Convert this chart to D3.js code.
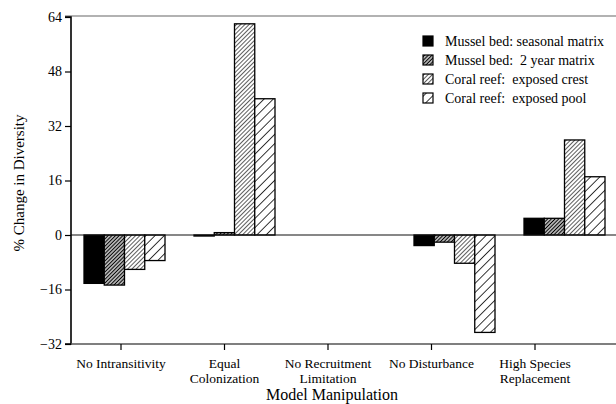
<!DOCTYPE html>
<html><head><meta charset="utf-8">
<script src="https://cdn.jsdelivr.net/npm/d3@7/dist/d3.min.js"></script>
<style>body{margin:0;background:#fff}text{font-family:"Liberation Serif","Times New Roman",serif;fill:#000}</style>
</head><body><svg id="c" width="616" height="404"></svg>
<script>
const categories = ["No Intransitivity", "Equal Colonization", "No Recruitment Limitation", "No Disturbance", "High Species Replacement"];
const categoryLines = [["No Intransitivity"], ["Equal", "Colonization"], ["No Recruitment", "Limitation"], ["No Disturbance"], ["High Species", "Replacement"]];
const seriesNames = ["Mussel bed: seasonal matrix", "Mussel bed:  2 year matrix", "Coral reef:  exposed crest", "Coral reef:  exposed pool"];
const musselSeasonal = [-14.2, -0.3, 0, -3.1, 4.9];
const mussel2yr = [-14.7, 0.7, 0, -2.1, 4.9];
const coralCrest = [-10.1, 62.0, 0, -8.3, 27.9];
const coralPool = [-7.5, 40.0, 0, -28.6, 17.1];
const yTicks = [-32, -16, 0, 16, 32, 48, 64];
const series = [musselSeasonal, mussel2yr, coralCrest, coralPool];

const svg = d3.select("#c");
const defs = svg.append("defs");
function hatch(id, size, sw, color) {
  const p = defs.append("pattern").attr("id", id).attr("patternUnits", "userSpaceOnUse")
    .attr("width", size).attr("height", size).attr("patternTransform", "rotate(45)");
  p.append("rect").attr("width", size).attr("height", size).attr("fill", "#fff");
  p.append("line").attr("x1", size/2).attr("x2", size/2).attr("y1", -1).attr("y2", size+1)
    .attr("stroke", color).attr("stroke-width", sw);
}
hatch("h2", 2.6, 1.4, "#000");
hatch("h3", 3.0, 0.8, "#333");
hatch("h4", 6.5, 0.9, "#222");
const fills = ["#000", "url(#h2)", "url(#h3)", "url(#h4)"];

const y = d3.scaleLinear().domain([-32, 64]).range([344, 17]);
const xBars = d3.scaleBand().domain(categories).range([69.5, 619.5]).paddingInner(0).paddingOuter(0);
const xTicks = d3.scaleBand().domain(categories).range([69.25, 586.75]);
const inner = d3.scaleBand().domain(d3.range(4)).range([0, 81]);
const groupW = 81;

// top frame line
svg.append("line").attr("x1", 65).attr("x2", 616).attr("y1", 16).attr("y2", 16).attr("stroke", "#666").attr("stroke-width", 1.2);

// bars
categories.forEach((c, i) => {
  const gx = xBars(c) + xBars.bandwidth()/2 - groupW/2;
  series.forEach((s, j) => {
    const v = s[i];
    if (v === 0) return;
    const y0 = y(Math.max(0, v)), y1 = y(Math.min(0, v));
    svg.append("rect").attr("x", gx + inner(j)).attr("y", y0)
      .attr("width", inner.bandwidth()).attr("height", Math.max(0.8, y1 - y0))
      .attr("fill", fills[j]).attr("stroke", "#000").attr("stroke-width", 1.3);
  });
});

// zero line
svg.append("line").attr("x1", 71).attr("x2", 616).attr("y1", y(0)).attr("y2", y(0)).attr("stroke", "#111").attr("stroke-width", 1.2);

// y axis
const yAxis = d3.axisLeft(y).tickValues(yTicks).tickSize(6).tickPadding(3).tickFormat(d3.format("d"));
const ya = svg.append("g").attr("transform", "translate(71,0)").call(yAxis);
ya.select(".domain").attr("stroke", "#000").attr("stroke-width", 1.6).attr("d", `M-6,${y(64)}H0V${y(-32)}H-6`);
ya.selectAll(".tick line").attr("stroke", "#000").attr("stroke-width", 1.2);
ya.selectAll("text").style("font-family", '"Liberation Serif",serif').style("font-size", "14px").attr("fill", "#000");

// x axis
const xa = svg.append("g").attr("transform", `translate(0,${y(-32)})`)
  .call(d3.axisBottom(xTicks).tickSize(6).tickFormat(""));
xa.select(".domain").attr("d", "M71,0H616").attr("stroke", "#555").attr("stroke-width", 1.4);
xa.selectAll(".tick line").attr("stroke", "#000").attr("stroke-width", 1.2);
categories.forEach((c, i) => {
  const t = svg.append("text").attr("x", xTicks(c) + xTicks.bandwidth()/2).attr("y", 368)
    .attr("text-anchor", "middle").style("font-size", "13.5px");
  categoryLines[i].forEach((ln, k) => t.append("tspan").attr("x", xTicks(c) + xTicks.bandwidth()/2).attr("dy", k ? 15 : 0).text(ln));
});

// titles
svg.append("text").attr("x", 332).attr("y", 399.5).attr("text-anchor", "middle").style("font-size", "16px").text("Model Manipulation");
svg.append("text").attr("transform", "translate(24,183) rotate(-90)").attr("text-anchor", "middle").style("font-size", "15px").text("% Change in Diversity");

// legend
seriesNames.forEach((n, j) => {
  const ly = 41 + j * 19;
  svg.append("rect").attr("x", 423).attr("y", ly - 5).attr("width", 10).attr("height", 10)
    .attr("fill", fills[j]).attr("stroke", "#000").attr("stroke-width", 1.2);
  svg.append("text").attr("x", 445).attr("y", ly + 5).style("font-size", "14px").style("white-space", "pre").text(n);
});
</script></body></html>
